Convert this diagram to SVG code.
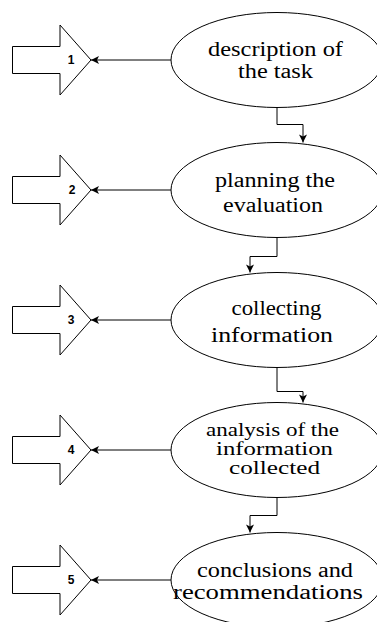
<svg xmlns="http://www.w3.org/2000/svg" width="377" height="622" viewBox="0 0 377 622">
<style>
.bg{fill:#ffffff}
.ell{fill:#ffffff;stroke:#000000;stroke-width:1}
.blk{fill:#ffffff;stroke:#000000;stroke-width:1}
.lbl{font-family:"Liberation Serif","DejaVu Serif","Times New Roman",serif;font-size:20px;fill:#000000}
.sm{font-size:18px}
.num{font-family:"Liberation Sans",Arial,sans-serif;font-size:12px;font-weight:bold;fill:#000000;text-anchor:middle}
.con{fill:none;stroke:#000000;stroke-width:1;marker-end:url(#ah)}
</style>
<defs>
<marker id="ah" viewBox="-9 -5 10 10" refX="0" refY="0" markerWidth="10" markerHeight="10" markerUnits="userSpaceOnUse" orient="auto">
<path d="M0,0 L-8,-4 L-6,0 L-8,4 Z" fill="#000000"/>
</marker>
<path id="blockArrow" d="M12.5,-13.5 L60,-13.5 L60,-35 L91,0 L60,35 L60,13.5 L12.5,13.5 Z"/>
</defs>
<rect class="bg" x="0" y="0" width="377" height="622"/>

<g id="arrow1"><use href="#blockArrow" class="blk" transform="translate(0,60)"/><text class="num" x="71" y="64">1</text></g>
<g id="arrow2"><use href="#blockArrow" class="blk" transform="translate(0,190)"/><text class="num" x="72" y="194">2</text></g>
<g id="arrow3"><use href="#blockArrow" class="blk" transform="translate(0,320)"/><text class="num" x="71" y="324">3</text></g>
<g id="arrow4"><use href="#blockArrow" class="blk" transform="translate(0,450)"/><text class="num" x="71" y="454">4</text></g>
<g id="arrow5"><use href="#blockArrow" class="blk" transform="translate(0,580)"/><text class="num" x="71" y="584">5</text></g>

<g id="node1">
<ellipse class="ell" cx="277" cy="60" rx="106" ry="47.5"/>
<text class="lbl" x="208" y="56" textLength="135" lengthAdjust="spacingAndGlyphs">description of</text>
<text class="lbl" x="238" y="78" textLength="75" lengthAdjust="spacingAndGlyphs">the task</text>
</g>
<g id="node2">
<ellipse class="ell" cx="277" cy="190" rx="106" ry="47.5"/>
<text class="lbl" x="215" y="186.5" textLength="120" lengthAdjust="spacingAndGlyphs">planning the</text>
<text class="lbl" x="223" y="212" textLength="100" lengthAdjust="spacingAndGlyphs">evaluation</text>
</g>
<g id="node3">
<ellipse class="ell" cx="277" cy="320" rx="106" ry="47.5"/>
<text class="lbl" x="231.5" y="315" textLength="90" lengthAdjust="spacingAndGlyphs">collecting</text>
<text class="lbl" x="211" y="341.5" textLength="122" lengthAdjust="spacingAndGlyphs">information</text>
</g>
<g id="node4">
<ellipse class="ell" cx="277" cy="450" rx="106" ry="47.5"/>
<text class="lbl sm" x="206" y="436" textLength="133" lengthAdjust="spacingAndGlyphs">analysis of the</text>
<text class="lbl sm" x="216" y="455" textLength="117" lengthAdjust="spacingAndGlyphs">information</text>
<text class="lbl sm" x="229" y="474" textLength="91" lengthAdjust="spacingAndGlyphs">collected</text>
</g>
<g id="node5">
<ellipse class="ell" cx="277" cy="580" rx="106" ry="47.5"/>
<text class="lbl" x="197" y="577" textLength="156" lengthAdjust="spacingAndGlyphs">conclusions and</text>
<text class="lbl" x="173" y="599" textLength="190" lengthAdjust="spacingAndGlyphs">recommendations</text>
</g>

<g id="connectors">
<path class="con" d="M171,60 L91,60"/>
<path class="con" d="M171,190 L91,190"/>
<path class="con" d="M171,320 L91,320"/>
<path class="con" d="M171,450 L91,450"/>
<path class="con" d="M171,580 L91,580"/>
<path class="con" d="M277,107.5 L277,124.5 L303,124.5 L303,142.5"/>
<path class="con" d="M277,237.5 L277,256.5 L250,256.5 L250,272.5"/>
<path class="con" d="M277,367.5 L277,391.5 L303,391.5 L303,402.5"/>
<path class="con" d="M277,497.5 L277,515.5 L250,515.5 L250,532.5"/>
</g>
</svg>
